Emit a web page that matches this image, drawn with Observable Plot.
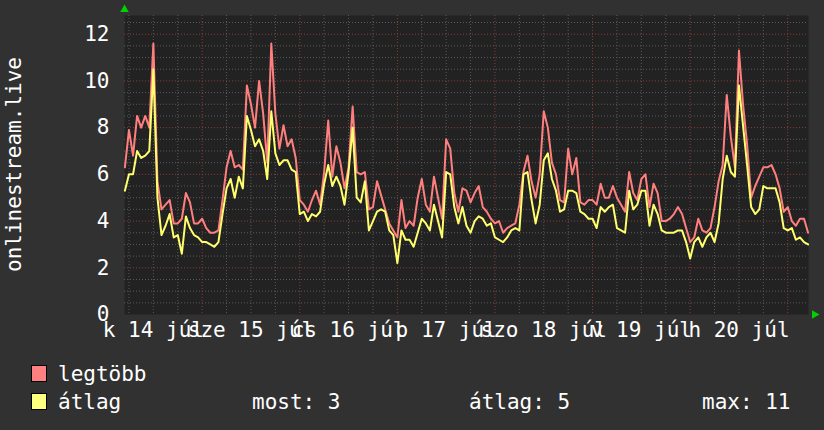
<!DOCTYPE html>
<html>
<head>
<meta charset="utf-8">
<script src="https://cdn.jsdelivr.net/npm/d3@7"></script>
<script src="https://cdn.jsdelivr.net/npm/@observablehq/plot@0.6"></script>
<style>
  html, body { margin: 0; padding: 0; background: #313131; }
  #wrap { position: relative; width: 824px; height: 430px; overflow: hidden; font-family: "DejaVu Sans Mono", monospace; color: #fff; }
  #chart svg { display: block; }
  #legend { position: absolute; left: 0; top: 350px; width: 824px; height: 80px; }
  .sw { position: absolute; width: 14px; height: 15px; border: 1px solid #000; }
  .lt { position: absolute; font-size: 21px; line-height: 21px; white-space: pre; color: #fff; }
</style>
</head>
<body>
<div id="wrap">
  <div id="chart"></div>
  <div id="legend"></div>
</div>
<script>
// ---- data (hourly samples, first sample at hour 5 of Jul 14) ----
const firstHour = 5;
const maxValues = [
  6.3,7.9,6.8,8.5,8.0,8.5,8.0,11.6,5.7,4.5,
  4.7,4.9,3.9,3.9,4.1,5.2,4.8,3.9,3.9,4.1,
  3.7,3.5,3.5,3.6,4.9,6.3,7.0,6.3,6.4,6.2,
  9.8,9.0,8.0,10.0,8.6,6.5,11.6,8.6,7.1,8.1,
  7.2,7.5,6.7,4.9,4.7,4.4,4.9,5.3,4.7,6.1,
  8.3,5.9,7.2,6.5,5.4,6.3,8.9,6.1,6.0,6.1,
  4.5,4.6,5.7,5.1,4.5,3.9,3.6,3.3,4.9,3.7,
  4.0,3.8,5.0,5.8,4.7,4.4,5.9,5.0,4.1,7.5,
  7.1,5.2,4.4,5.4,5.3,4.8,5.2,5.5,4.6,4.4,
  4.1,3.9,4.0,3.5,3.7,3.8,3.9,4.7,6.1,6.8,
  5.7,5.0,6.0,8.7,8.0,6.5,6.0,4.9,4.8,7.1,
  6.0,6.7,4.8,4.7,4.9,4.9,4.7,5.6,5.0,5.0,
  5.5,5.0,4.7,4.4,6.1,5.2,4.9,5.8,6.0,4.6,
  5.6,5.2,4.0,4.0,4.1,4.3,4.6,4.3,3.7,3.1,
  3.3,4.1,3.6,3.5,3.7,4.6,5.7,6.4,9.4,7.6,
  6.3,11.3,9.0,7.3,5.0,5.5,5.9,6.3,6.3,6.4,
  6.0,5.4,4.4,4.6,4.0,3.8,4.1,4.1,3.5
];
const avgValues = [
  5.3,6.0,6.0,7.0,6.7,6.8,7.0,10.5,5.0,3.4,
  3.8,4.3,3.3,3.4,2.6,4.2,3.7,3.4,3.3,3.1,
  3.1,3.0,2.9,3.1,4.3,5.4,5.8,5.0,5.9,5.4,
  8.5,7.9,7.2,7.5,7.0,5.8,8.7,6.9,6.4,6.6,
  6.6,6.2,6.1,4.3,4.4,4.0,4.3,4.2,4.4,5.6,
  6.4,5.5,5.9,5.5,4.7,6.1,8.0,5.0,4.8,5.7,
  3.6,4.0,4.4,4.5,4.4,3.6,3.4,2.2,3.6,3.2,
  3.2,2.9,3.5,4.1,3.9,3.6,4.7,4.0,3.3,6.1,
  6.0,4.6,3.9,4.6,3.8,3.5,4.0,4.2,4.1,3.8,
  3.9,3.3,3.2,3.1,3.3,3.6,3.7,3.6,6.0,6.1,
  4.9,3.9,4.7,6.6,6.9,5.8,5.3,4.4,4.5,5.3,
  5.3,5.2,4.4,4.3,4.1,4.1,3.7,4.6,4.4,4.6,
  4.7,3.7,3.6,3.5,5.3,4.5,4.7,5.3,5.3,3.8,
  4.7,4.3,3.6,3.5,3.5,3.5,3.6,3.6,3.1,2.4,
  3.1,3.3,2.9,3.3,3.5,3.1,3.9,5.8,6.8,6.1,
  5.9,9.8,8.1,6.4,4.6,4.3,4.5,5.5,5.4,5.4,
  5.4,4.8,3.7,3.6,3.7,3.2,3.3,3.1,3.0
];
const dayLabels = ["k 14 júl","sze 15 júl","cs 16 júl","p 17 júl","szo 18 júl","v 19 júl","h 20 júl"];
const dayNoonHours = [12, 36, 60, 84, 108, 132, 156];
const yTicks = [0, 2, 4, 6, 8, 10, 12];
const yTitle = "onlinestream.live";
const seriesNames = ["legtöbb", "átlag"];
const seriesColors = ["#ff7f7f", "#ffff6e"];
const swatchColors = ["#ff8080", "#ffff80"];
const statLabels = ["most: 3", "átlag: 5", "max: 11"];

// ---- build ----
const rows = maxValues.map((v, i) => ({h: firstHour + i, max: v, avg: avgValues[i]}));
const xDomain = [4.9, 173.1];
const yDomain = [0, 12.8];
const majorX = d3.range(24, 173, 24);
const minorX = d3.range(6, 173, 6).filter(h => h % 24 !== 0);
const majorY = d3.range(2, 12.81, 2);
const minorY = d3.range(0.5, 12.81, 0.5).filter(v => v % 2 !== 0);

const W = 824, H = 350, mL = 124, mR = 16, mT = 15, mB = 36;
const chart = Plot.plot({
  width: W, height: H,
  marginLeft: mL, marginRight: mR, marginTop: mT, marginBottom: mB,
  style: {background: "transparent", color: "#fff", fontFamily: "'DejaVu Sans Mono', monospace", fontSize: "21px"},
  x: {domain: xDomain, label: null},
  y: {domain: yDomain, label: null},
  marks: [
    Plot.frame({fill: "#222222", stroke: "none"}),
    Plot.ruleY(minorY, {stroke: "#5a5a5a", strokeDasharray: "1,2"}),
    Plot.ruleX(minorX, {stroke: "#5a5a5a", strokeDasharray: "1,2"}),
    Plot.ruleY(majorY, {stroke: "#8c3c3c", strokeDasharray: "1,2"}),
    Plot.ruleX(majorX, {stroke: "#8c3c3c", strokeDasharray: "1,2"}),
    Plot.line(rows, {x: "h", y: "max", stroke: seriesColors[0], strokeWidth: 2}),
    Plot.line(rows, {x: "h", y: "avg", stroke: seriesColors[1], strokeWidth: 2}),
    Plot.axisY(yTicks, {tickSize: 0, tickPadding: 15, fontSize: 21, fill: "#fff", label: null}),
    Plot.axisX(dayNoonHours, {tickSize: 0, tickPadding: 8, fontSize: 21, fill: "#fff", label: null,
      tickFormat: d => dayLabels[dayNoonHours.indexOf(d)]}),
    Plot.dot([0], {x: () => xDomain[0], y: () => yDomain[1], symbol: "triangle", fill: "#00d000", r: 3.2, dy: -6}),
    Plot.dot([0], {x: () => xDomain[1], y: () => yDomain[0], symbol: "triangle", fill: "#00d000", r: 3.2, dx: 6, rotate: 90})
  ]
});
document.getElementById("chart").appendChild(chart);

// y-axis title
d3.select(chart).append("text")
  .attr("transform", `translate(21,${(mT + H - mB) / 2}) rotate(-90)`)
  .attr("text-anchor", "middle")
  .attr("fill", "#fff")
  .style("font-family", "'DejaVu Sans Mono', monospace")
  .style("font-size", "21px")
  .text(yTitle);

// legend (HTML, below the svg)
const legend = d3.select("#legend");
const rowTops = [15, 43];
seriesNames.forEach((name, i) => {
  legend.append("div").attr("class", "sw")
    .style("left", "31px").style("top", rowTops[i] + "px")
    .style("background", swatchColors[i]);
  legend.append("div").attr("class", "lt")
    .style("left", "58px").style("top", (rowTops[i] - 1) + "px")
    .text(name);
});
const statLefts = [252, 469, 702];
statLabels.forEach((s, i) => {
  legend.append("div").attr("class", "lt")
    .style("left", statLefts[i] + "px").style("top", (rowTops[1] - 1) + "px")
    .text(s);
});
</script>
</body>
</html>
